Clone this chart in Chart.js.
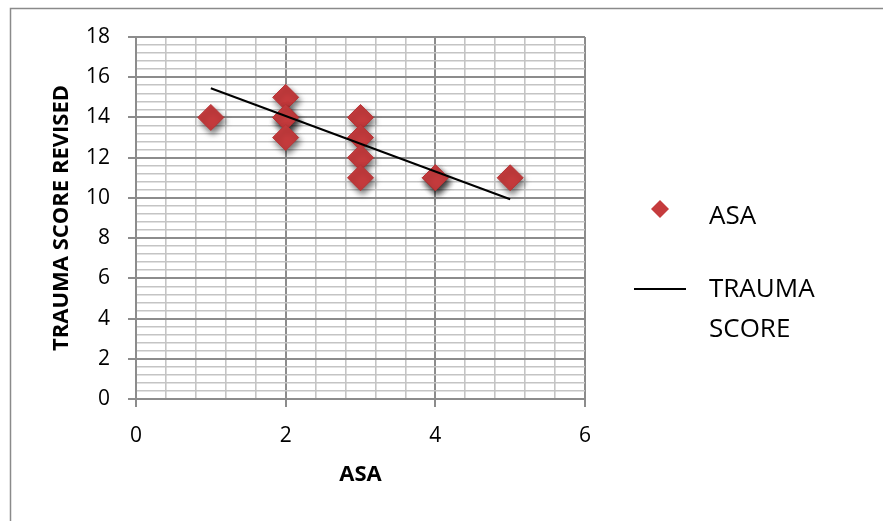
<!DOCTYPE html>
<html>
<head>
<meta charset="utf-8">
<script src="https://cdn.jsdelivr.net/npm/chart.js@4.4.1/dist/chart.umd.min.js"></script>
<style>
  html, body { margin: 0; padding: 0; background: #fff; }
  #wrap { width: 883px; height: 521px; position: relative; }
</style>
</head>
<body>
<div id="wrap"><canvas id="grafico" width="883" height="521"></canvas></div>
<script>
// valores
const asaX   = [1, 2, 2, 2, 2, 3, 3, 3, 3, 4, 4, 5];
const traumaY = [14, 15, 14, 14, 13, 14, 13, 12, 11, 11, 11, 11];
// linha de tendência (extremos)
const tendX = [1, 5];
const tendY = [15.45, 9.93];
const xTicks = [0, 2, 4, 6];
const yTicks = [0, 2, 4, 6, 8, 10, 12, 14, 16, 18];

const fonte = "'Open Sans', 'Noto Sans', sans-serif";
const vermelho = "#c53b3d";

function ehMaior(v, lista) {
    return lista.some(t => Math.abs(t - v) < 1e-6);
}

// sombra por baixo dos losangos
const sombraPlugin = {
    id: "sombra",
    beforeDatasetDraw(chart, args) {
        if (args.index !== 0) return;
        const ctx = chart.ctx;
        ctx.save();
        ctx.shadowColor = "rgba(0,0,0,0.55)";
        ctx.shadowBlur = 6;
        ctx.shadowOffsetX = 2;
        ctx.shadowOffsetY = 4;
    },
    afterDatasetDraw(chart, args) {
        if (args.index !== 0) return;
        chart.ctx.restore();
    }
};

// moldura e legenda
const legendaPlugin = {
    id: "legendaLado",
    afterDraw(chart) {
        const ctx = chart.ctx;
        ctx.save();
        ctx.strokeStyle = "#8a8a8a";
        ctx.lineWidth = 1.5;
        ctx.strokeRect(10.5, 8.5, 1000, 1000);

        // losango ASA
        const cx = 660, cy = 209, r = 9;
        ctx.fillStyle = vermelho;
        ctx.beginPath();
        ctx.moveTo(cx, cy - r);
        ctx.lineTo(cx + r, cy);
        ctx.lineTo(cx, cy + r);
        ctx.lineTo(cx - r, cy);
        ctx.closePath();
        ctx.fill();

        // linha TRAUMA SCORE
        ctx.strokeStyle = "#000";
        ctx.lineWidth = 2;
        ctx.beginPath();
        ctx.moveTo(634, 289);
        ctx.lineTo(686, 289);
        ctx.stroke();

        ctx.fillStyle = "#000";
        ctx.font = "26px " + fonte;
        ctx.textBaseline = "middle";
        ctx.textAlign = "left";
        const ds = chart.data.datasets;
        ctx.fillText(ds[0].label, 709, 217);
        const partes = ds[1].label.split(" ");
        ctx.fillText(partes[0], 709, 290);
        ctx.fillText(partes[1], 709, 330);
        ctx.restore();
    }
};

function gradeCor(lista) {
    return ctx => ehMaior(ctx.tick.value, lista) ? "#8c8c8c" : "#c4c4c4";
}
function gradeLarg(lista) {
    return ctx => ehMaior(ctx.tick.value, lista) ? 2 : 1.6;
}
function marcaCor(lista) {
    return ctx => ehMaior(ctx.tick.value, lista) ? "#8c8c8c" : "rgba(0,0,0,0)";
}

const ctx = document.getElementById("grafico").getContext("2d");
new Chart(ctx, {
    type: "scatter",
    data: {
        datasets: [
            {
                label: "ASA",
                data: asaX.map((x, i) => ({ x: x, y: traumaY[i] })),
                pointStyle: "rectRot",
                pointRadius: 13,
                pointHoverRadius: 13,
                backgroundColor: vermelho,
                borderColor: "#b83335",
                borderWidth: 1,
                order: 1
            },
            {
                label: "TRAUMA SCORE",
                type: "line",
                data: tendX.map((x, i) => ({ x: x, y: tendY[i] })),
                borderColor: "#000",
                borderWidth: 2,
                pointRadius: 0,
                fill: false,
                order: 0
            }
        ]
    },
    options: {
        responsive: false,
        animation: false,
        layout: { padding: { left: 12, top: 37, right: 298, bottom: 20 } },
        plugins: {
            legend: { display: false },
            tooltip: { enabled: false }
        },
        scales: {
            x: {
                type: "linear",
                min: 0,
                max: 6,
                afterFit: s => { s.height = 102; },
                ticks: {
                    stepSize: 0.4,
                    autoSkip: false,
                    maxRotation: 0,
                    padding: 16,
                    color: "#000",
                    font: { family: fonte, size: 21 },
                    callback: v => ehMaior(v, xTicks) ? Math.round(v) : ""
                },
                grid: {
                    color: gradeCor(xTicks),
                    lineWidth: gradeLarg(xTicks),
                    tickColor: marcaCor(xTicks),
                    tickLength: 8
                },
                border: { color: "#8c8c8c", width: 2 },
                title: {
                    display: true,
                    text: "ASA",
                    color: "#000",
                    font: { family: fonte, size: 22, weight: "bold" },
                    padding: { top: 13, bottom: 13 }
                }
            },
            y: {
                min: 0,
                max: 18,
                afterFit: s => { s.width = 124; },
                ticks: {
                    stepSize: 0.4,
                    autoSkip: false,
                    padding: 18,
                    color: "#000",
                    font: { family: fonte, size: 21 },
                    callback: v => ehMaior(v, yTicks) ? Math.round(v) : ""
                },
                grid: {
                    color: gradeCor(yTicks),
                    lineWidth: gradeLarg(yTicks),
                    tickColor: marcaCor(yTicks),
                    tickLength: 8
                },
                border: { color: "#8c8c8c", width: 2 },
                title: {
                    display: true,
                    text: "TRAUMA SCORE REVISED",
                    color: "#000",
                    font: { family: fonte, size: 22, weight: "bold" },
                    padding: { top: 37, bottom: 0 }
                }
            }
        }
    },
    plugins: [sombraPlugin, legendaPlugin]
});
</script>
</body>
</html>
